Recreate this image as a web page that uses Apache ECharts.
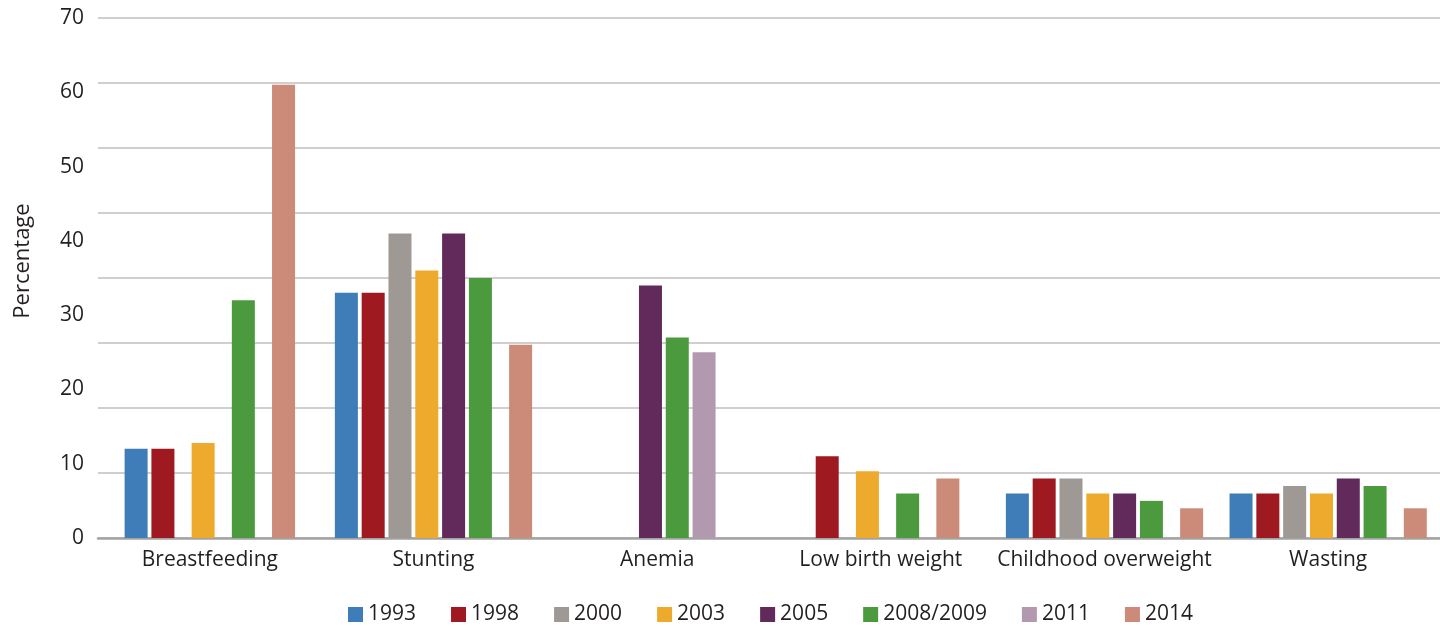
<!DOCTYPE html>
<html>
<head>
<meta charset="utf-8">
<script src="https://cdn.jsdelivr.net/npm/echarts@6/dist/echarts.min.js"></script>
<style>
  html, body { margin: 0; padding: 0; background: #ffffff; }
  #chart { width: 1440px; height: 626px; }
</style>
</head>
<body>
<div id="chart"></div>
<script>
// Nutrition indicators by survey year (percent of children)
const categories = ['Breastfeeding', 'Stunting', 'Anemia', 'Low birth weight', 'Childhood overweight', 'Wasting'];
const years = ['1993', '1998', '2000', '2003', '2005', '2008/2009', '2011', '2014'];

const v1993 = [12,   33,   null, null, 6,    6];
const v1998 = [12,   33,   null, 11,   8,    6];
const v2000 = [null, 41,   null, null, 8,    7];
const v2003 = [12.8, 36,   null, 9,    6,    6];
const v2005 = [null, 41,   34,   null, 6,    8];
const v2008 = [32,   35,   27,   6,    5,    7];
const v2011 = [null, null, 25,   null, null, null];
const v2014 = [61,   26,   null, 8,    4,    4];

const yTickLabels = ['0', '10', '20', '30', '40', '50', '60', '70'];

const seriesValues = [v1993, v1998, v2000, v2003, v2005, v2008, v2011, v2014];
const colors = ['#3f7db8', '#9e1a20', '#9e9995', '#eeaa2c', '#622a5a', '#4b9b3e', '#b399b0', '#cc8a78'];

const FONT = "'Open Sans', 'Noto Sans', sans-serif";
const TEXT = '#231f20';

// Bars inside a category: a year with no value keeps only half a slot,
// and the whole group is centred on the category band.
const BAR_FRAC = 23 / 223.6;
const PITCH_FRAC = 26.8 / 223.6;

function makeRender(sIdx) {
  return function (params, api) {
    const cat = api.value(0);
    const val = api.value(1);
    const band = api.size([1, 0])[0];
    const pitch = band * PITCH_FRAC;
    const barW = band * BAR_FRAC;
    let total = 0, offset = 0;
    seriesValues.forEach(function (arr, j) {
      const w = arr[cat] == null ? pitch / 2 : pitch;
      if (j < sIdx) offset += w;
      total += w;
    });
    const base = api.coord([cat, 0]);
    const top = api.coord([cat, val]);
    const x = base[0] - total / 2 + offset + (pitch - barW) / 2;
    return {
      type: 'rect',
      shape: { x: x, y: top[1], width: barW, height: base[1] - top[1] },
      style: api.style()
    };
  };
}

const series = years.map(function (year, s) {
  const data = [];
  seriesValues[s].forEach(function (v, i) { if (v != null) data.push([i, v]); });
  return {
    name: year,
    type: 'custom',
    coordinateSystem: 'cartesian2d',
    xAxisIndex: 0,
    yAxisIndex: 0,
    itemStyle: { color: colors[s] },
    encode: { x: 0, y: 1 },
    renderItem: makeRender(s),
    data: data
  };
});

const chart = echarts.init(document.getElementById('chart'), null, { renderer: 'canvas' });
chart.setOption({
  animation: false,
  backgroundColor: '#ffffff',
  textStyle: { fontFamily: FONT, color: TEXT },
  grid: { left: 98, right: 0, top: 18, bottom: 88, containLabel: false, outerBoundsMode: 'none' },
  legend: {
    data: years,
    left: 343,
    top: 599,
    icon: 'rect',
    itemWidth: 15,
    itemHeight: 15,
    itemGap: 35,
    textStyle: { fontFamily: FONT, fontSize: 21, color: TEXT }
  },
  xAxis: {
    type: 'category',
    data: categories,
    boundaryGap: true,
    axisLine: { show: true, lineStyle: { color: '#a3a3a3', width: 2.5 } },
    axisTick: { show: false },
    axisLabel: { fontFamily: FONT, fontSize: 21, color: TEXT, margin: 12, interval: 0 },
    splitLine: { show: false }
  },
  yAxis: [
    {
      type: 'value',
      min: 0,
      max: 70,
      interval: 10,
      name: 'Percentage',
      nameLocation: 'middle',
      nameGap: 64,
      nameRotate: 90,
      nameTextStyle: { fontFamily: FONT, fontSize: 22, color: TEXT, padding: [0, 0, 0, 34] },
      axisLine: { show: false },
      axisTick: { show: false },
      axisLabel: {
        fontFamily: FONT, fontSize: 21, color: TEXT, margin: 14,
        formatter: function (v) { return yTickLabels[Math.round(v / 10)]; }
      },
      splitLine: { show: false }
    },
    {
      type: 'value',
      min: 0,
      max: 70,
      interval: 8.75,
      position: 'left',
      axisLine: { show: false },
      axisTick: { show: false },
      axisLabel: { show: false },
      splitLine: { show: true, lineStyle: { color: '#c2bec0', width: 1.5 } }
    }
  ],
  series: series
});
</script>
</body>
</html>
